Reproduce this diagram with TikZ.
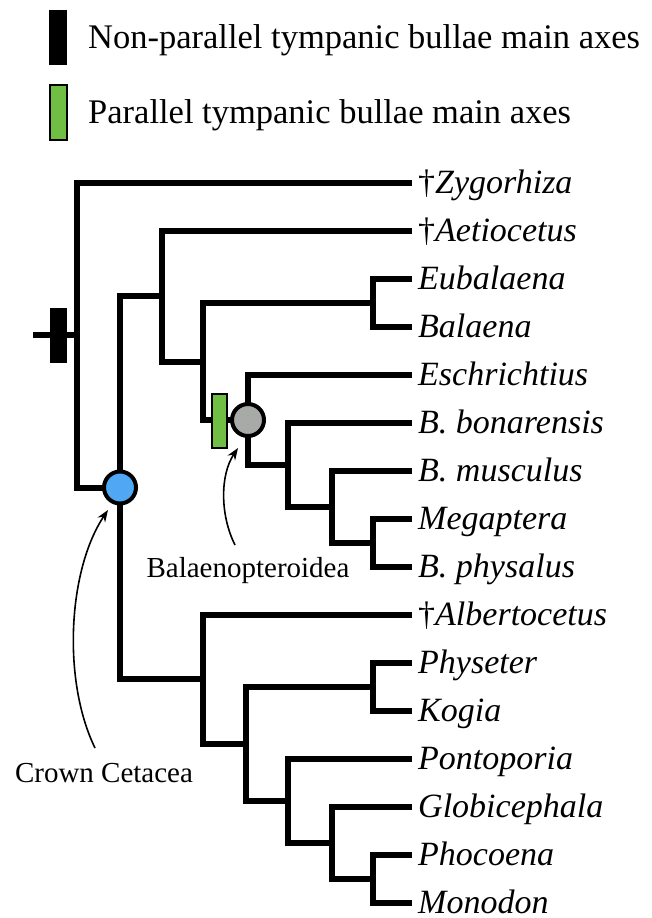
\documentclass[tikz,border=0pt]{standalone}
\usepackage{fontspec}
\setmainfont{Liberation Serif}
\usetikzlibrary{arrows.meta}
\definecolor{nodeblue}{RGB}{80,168,245}
\definecolor{nodegray}{RGB}{168,170,168}
\definecolor{bargreen}{RGB}{112,190,68}
\begin{document}
\begin{tikzpicture}[x=1pt,y=-1pt,
  branch/.style={line width=6pt, line cap=rect, line join=miter},
  taxon/.style={anchor=base west, inner sep=0pt, font=\fontsize{34}{40}\selectfont\itshape},
  legendtext/.style={anchor=base west, inner sep=0pt, font=\fontsize{34.5}{40}\selectfont},
  cladelabel/.style={anchor=base, inner sep=0pt, font=\fontsize{29}{34}\selectfont},
  cladenode/.style={circle, draw=black, line width=4pt, minimum size=32pt, inner sep=0pt},
  blackbar/.style={fill=black},
  greenbar/.style={fill=bargreen, draw=black, line width=1.5pt},
  pointer/.style={line width=1.6pt, -{Stealth[length=12pt,width=9pt]}}]
\useasboundingbox (0,0) rectangle (651,918);

% legend
\fill[blackbar] (49,10) rectangle (67,65);
\node[legendtext] (legA) at (88,48) {Non-parallel tympanic bullae main axes};
\filldraw[greenbar] (50,85) rectangle (67,140);
\node[legendtext] (legB) at (88,123) {Parallel tympanic bullae main axes};

% leaf ends
\foreach \n/\y in {zyg/183,aet/231,eub/279,bal/327,esc/375,bon/423,mus/471,meg/519,phy/567,
                   alb/615,pht/663,kog/711,pon/759,glo/807,pho/855,mon/903}
  \coordinate (\n) at (409,\y);

% internal nodes
\coordinate (stem) at (36,335);
\coordinate (root) at (77,335);
\coordinate (crown) at (120,487.5);
\coordinate (myst) at (162,296);
\coordinate (chaeo) at (203,361.5);
\coordinate (balid) at (373,303);
\coordinate (balop) at (248,420);
\coordinate (n1) at (288,465);
\coordinate (n2) at (332,507);
\coordinate (n3) at (373,543);
\coordinate (odont) at (203,679);
\coordinate (n4) at (246,743.5);
\coordinate (physd) at (373,687);
\coordinate (n5) at (288,801);
\coordinate (n6) at (332,843);
\coordinate (n7) at (373,879);

% branches
\draw[branch] (stem) -- (root);
\draw[branch] (root) |- (zyg);
\draw[branch] (root) |- (crown);
\draw[branch] (crown) |- (myst);
\draw[branch] (crown) |- (odont);
\draw[branch] (myst) |- (aet);
\draw[branch] (myst) |- (chaeo);
\draw[branch] (chaeo) |- (balid);
\draw[branch] (chaeo) |- (balop);
\draw[branch] (balid) |- (eub);
\draw[branch] (balid) |- (bal);
\draw[branch] (balop) |- (esc);
\draw[branch] (balop) |- (n1);
\draw[branch] (n1) |- (bon);
\draw[branch] (n1) |- (n2);
\draw[branch] (n2) |- (mus);
\draw[branch] (n2) |- (n3);
\draw[branch] (n3) |- (meg);
\draw[branch] (n3) |- (phy);
\draw[branch] (odont) |- (alb);
\draw[branch] (odont) |- (n4);
\draw[branch] (n4) |- (physd);
\draw[branch] (n4) |- (n5);
\draw[branch] (physd) |- (pht);
\draw[branch] (physd) |- (kog);
\draw[branch] (n5) |- (pon);
\draw[branch] (n5) |- (n6);
\draw[branch] (n6) |- (glo);
\draw[branch] (n6) |- (n7);
\draw[branch] (n7) |- (pho);
\draw[branch] (n7) |- (mon);

% character marks
\fill[blackbar] (50,307.5) rectangle (67,362.5);
\filldraw[greenbar] (212,394) rectangle (227,448);

% clade nodes
\node[cladenode, fill=nodeblue] (crownnode) at (crown) {};
\node[cladenode, fill=nodegray] (balopnode) at (balop) {};

% taxa
\foreach \n/\t in {zyg/{{\upshape\char"2020}Zygorhiza},aet/{{\upshape\char"2020}Aetiocetus},
    eub/Eubalaena,bal/Balaena,esc/Eschrichtius,bon/B. bonarensis,mus/B. musculus,
    meg/Megaptera,phy/B. physalus,alb/{{\upshape\char"2020}Albertocetus},pht/Physeter,
    kog/Kogia,pon/Pontoporia,glo/Globicephala,pho/Phocoena,mon/Monodon}
  \node[taxon] (t\n) at ([xshift=9pt,yshift=-10pt]\n) {\t};

% clade labels and pointers
\node[cladelabel] (crownlbl) at (104,782) {Crown Cetacea};
\node[cladelabel] (baloplbl) at (248,577) {Balaenopteroidea};
\coordinate (crowntail) at (95,748);
\coordinate (crowntip) at (108,510);
\coordinate (baloptail) at (235,545);
\coordinate (baloptip) at (238,448);
\draw[pointer] (crowntail) .. controls (62,680) and (68,570) .. (crowntip);
\draw[pointer] (baloptail) .. controls (220,515) and (220,475) .. (baloptip);
\end{tikzpicture}
\end{document}
